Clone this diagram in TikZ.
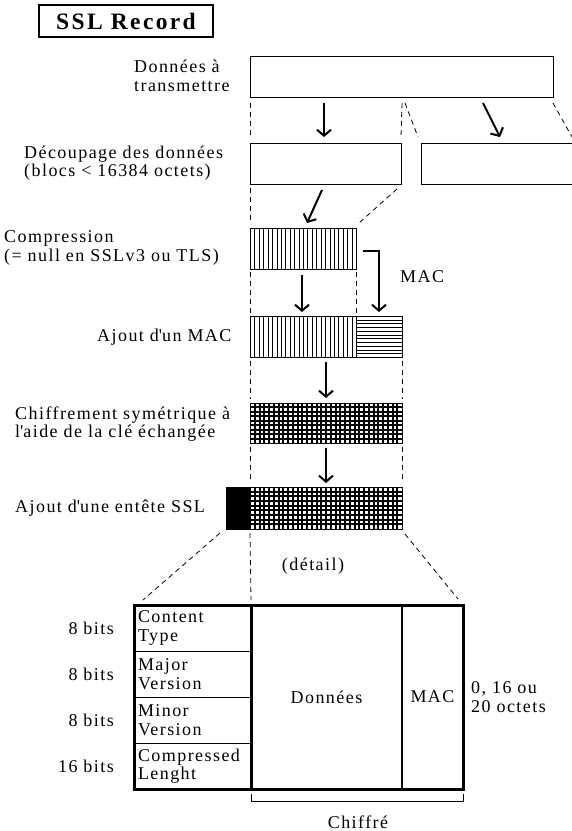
\documentclass[tikz,border=0pt]{standalone}
\usepackage{fontspec}
\setmainfont{Liberation Serif}[LetterSpace=8]
\usetikzlibrary{arrows.meta,positioning}

\begin{document}
\begin{tikzpicture}[x=1pt,y=-1pt,
	box/.style={draw,line width=1pt,rectangle,inner sep=0pt,outer sep=0pt,anchor=north west},
	guide/.style={line width=0.8pt,dash pattern=on 5pt off 4pt},
	arr/.style={line width=2pt,-{Straight Barb[length=6pt,width=14pt,line width=2pt]}},
	hatch/.style={line width=1pt},
	gridline/.style={line width=2pt},
	lab/.style={inner sep=0pt,align=left,font=\fontsize{18}{18.5}\selectfont},
	cell/.style={draw,line width=1pt,inner xsep=4pt,inner ysep=0pt,outer sep=0pt,anchor=north west,text width=109pt,align=left,minimum height=46pt,font=\fontsize{18}{18.5}\selectfont}]
	\useasboundingbox (0,0) rectangle (571,831);
	
	\node[draw,line width=2pt,minimum width=174pt,minimum height=32pt,inner sep=0pt,font=\bfseries\fontsize{23.5}{24}\selectfont\addfontfeatures{LetterSpace=10}] (title) at (126,21) {SSL Record};
	
	% donnees et decoupage
	\node[box,minimum width=303pt,minimum height=41pt] (top) at (250,56) {};
	\node[lab,anchor=west] (ltop) at (134,76) {Données à\\transmettre};
	\coordinate (split) at (402,97);
	\node[box,minimum width=151pt,minimum height=41pt] (cut1) at (250,143) {};
	\node[box,minimum width=170pt,minimum height=41pt] (cut2) at (421,143) {};
	\coordinate (cutend) at (572,143);
	\node[lab,anchor=west] (lcut) at (24,163) {Découpage des données\\(blocs < 16384 octets)};
	
	\draw[guide] ([yshift=-6pt]top.south west) -- ([yshift=6pt]cut1.north west);
	\draw[guide] ([yshift=-6pt]split) -- ([yshift=6pt]cut1.north east);
	\draw[guide] ([xshift=3pt,yshift=-6pt]split) -- ([xshift=-3pt,yshift=6pt]cut2.north west);
	\draw[guide] ([yshift=-6pt]top.south east) -- ([yshift=6pt]cutend);
	\draw[arr] ([xshift=74pt,yshift=-6pt]top.south west) -- ([xshift=74pt,yshift=6pt]cut1.north west);
	\draw[arr] ([xshift=233pt,yshift=-6pt]top.south west) -- ([xshift=79pt,yshift=6pt]cut2.north west);
	
	% compression
	\foreach \i [evaluate=\i as \x using 250.5+round(4.42*\i)] in {1,...,23}
		\draw[hatch] (\x,228) -- (\x,269);
	\node[box,minimum width=106pt,minimum height=41pt] (comp) at (250,228) {};
	\node[lab,anchor=west] (lcomp) at (4,248) {Compression\\(= null en SSLv3 ou TLS)};
	\draw[guide] ([yshift=-4pt]cut1.south west) -- ([yshift=4pt]comp.north west);
	\draw[guide] ([xshift=-4pt,yshift=-5pt]cut1.south east) -- ([xshift=3pt,yshift=5pt]comp.north east);
	\draw[arr] ([xshift=72pt,yshift=-6pt]cut1.south west) -- ([xshift=57pt,yshift=5pt]comp.north west);
	
	% ajout du MAC
	\foreach \i [evaluate=\i as \x using 250.5+round(4.42*\i)] in {1,...,23}
		\draw[hatch] (\x,316) -- (\x,357);
	\foreach \i [evaluate=\i as \y using 316.5+round(3.73*\i)] in {1,...,10}
		\draw[hatch] (356,\y) -- (402,\y);
	\node[box,minimum width=106pt,minimum height=41pt] (macl) at (250,316) {};
	\node[box,minimum width=46pt,minimum height=41pt] (macr) at (356,316) {};
	\node[lab,anchor=west] (lmac) at (97,337) {Ajout d\textquotesingle un MAC};
	\draw[guide] ([yshift=-3pt]comp.south west) -- ([yshift=3pt]macl.north west);
	\draw[guide] ([yshift=-3pt]comp.south east) -- ([yshift=3pt]macl.north east);
	\draw[arr] ([xshift=52pt,yshift=-6pt]comp.south west) -- ([xshift=52pt,yshift=4pt]macl.north west);
	\draw[arr] ([xshift=7pt,yshift=-23pt]comp.north east) -| ([yshift=4pt]macr.north);
	\node[lab,anchor=west] (lmacarr) at (400,277) {MAC};
	
	% chiffrement
	\foreach \i [evaluate=\i as \x using 250+round(4.75*\i)] in {1,...,31}
		\draw[gridline] (\x,403) -- (\x,443);
	\foreach \i [evaluate=\i as \y using 403+round(4.44*\i)] in {1,...,8}
		\draw[gridline] (250,\y) -- (402,\y);
	\node[box,minimum width=152pt,minimum height=40pt] (enc) at (250,403) {};
	\node[lab,anchor=west] (lenc) at (15,424) {Chiffrement symétrique à\\l\textquotesingle aide de la clé échangée};
	\draw[guide] ([yshift=-4pt]macl.south west) -- ([yshift=4pt]enc.north west);
	\draw[guide] ([yshift=-4pt]macr.south east) -- ([yshift=4pt]enc.north east);
	\draw[arr] ([yshift=-5pt]macl.south west -| enc.north) -- ([yshift=5pt]enc.north);
	
	% entete SSL
	\foreach \i [evaluate=\i as \x using 250+round(4.75*\i)] in {1,...,31}
		\draw[gridline] (\x,487) -- (\x,529);
	\foreach \i [evaluate=\i as \y using 487+round(4.67*\i)] in {1,...,8}
		\draw[gridline] (250,\y) -- (402,\y);
	\node[box,minimum width=152pt,minimum height=42pt] (hdrg) at (250,487) {};
	\node[box,fill=black,minimum width=24pt,minimum height=42pt] (hdrb) at (226,487) {};
	\node[lab,anchor=west] (lhdr) at (15,508) {Ajout d\textquotesingle une entête SSL};
	\draw[guide] ([yshift=-4pt]enc.south west) -- ([yshift=4pt]hdrg.north west);
	\draw[guide] ([yshift=-4pt]enc.south east) -- ([yshift=4pt]hdrg.north east);
	\draw[arr] ([yshift=-5pt]enc.south) -- ([yshift=4pt]hdrg.north);
	
	% detail
	\node[cell] (ct) at (134,605) {Content\\Type};
	\node[cell] (mj) at (134,651) {Major\\Version};
	\node[cell] (mn) at (134,697) {Minor\\Version};
	\node[cell] (cl) at (134,743) {Compressed\\Lenght};
	\node[box,minimum width=151pt,minimum height=184pt,font=\fontsize{18}{18.5}\selectfont,anchor=north west] (dat) at (251,605) {Données};
	\node[box,minimum width=61pt,minimum height=184pt,font=\fontsize{18}{18.5}\selectfont,anchor=north west] (mac) at (402,605) {MAC};
	\draw[line width=3pt] (ct.north west) rectangle (mac.south east);
	\draw[line width=3pt] (dat.north west) -- (dat.south west);
	\draw[line width=2pt] (mac.north west) -- (mac.south west);
	
	\node[lab,anchor=east,left=20pt of ct] (b1) {8 bits};
	\node[lab,anchor=east,left=20pt of mj] (b2) {8 bits};
	\node[lab,anchor=east,left=20pt of mn] (b3) {8 bits};
	\node[lab,anchor=east,left=20pt of cl] (b4) {16 bits};
	\node[lab,right=8pt of mac] (lsize) {0, 16 ou\\20 octets};
	
	\node[lab] (ldet) at (313,566) {(détail)};
	\draw[guide] ([xshift=-6pt,yshift=-4pt]hdrb.south west) -- ([xshift=9pt,yshift=5pt]ct.north west);
	\draw[guide] ([yshift=-4pt]hdrg.south west) -- ([yshift=5pt]dat.north west);
	\draw[guide] ([xshift=3pt,yshift=-5pt]hdrg.south east) -- ([xshift=-5pt,yshift=6pt]mac.north east);
	
	\draw[line width=1pt] ([yshift=-5pt]dat.south west) -- ([yshift=-12pt]dat.south west) -- ([yshift=-12pt]mac.south east) -- ([yshift=-5pt]mac.south east);
	\node[lab] (lchif) at (358,822) {Chiffré};
\end{tikzpicture}
\end{document}
